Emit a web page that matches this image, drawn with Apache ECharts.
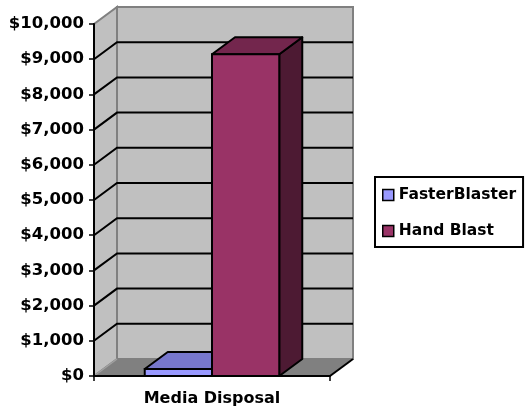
<!DOCTYPE html>
<html>
<head>
<meta charset="utf-8">
<script src="https://cdn.jsdelivr.net/npm/echarts@6/dist/echarts.min.js"></script>
<style>
html,body{margin:0;padding:0;background:#fff;}
#chart{width:526px;height:414px;}
</style>
</head>
<body>
<div id="chart"></div>
<script>
// ---- data ----
const categories = ['Media Disposal'];
const seriesNames = ['FasterBlaster', 'Hand Blast'];
const fasterBlaster = [200];
const handBlast = [9140];
const yTicks = [0, 1000, 2000, 3000, 4000, 5000, 6000, 7000, 8000, 9000, 10000];

// ---- styling ----
const DX = 23, DY = -17;
const FONT = 'DejaVu Sans';
const faceColors = [
  { front: '#9999FF', top: '#7777CC', side: '#5C5CA6' },
  { front: '#993366', top: '#73264D', side: '#4D1A33' }
];

const chart = echarts.init(document.getElementById('chart'), null, { renderer: 'canvas' });

function wallsRender(params, api) {
  const cs = params.coordSys;
  const L = cs.x, R = cs.x + cs.width, T = cs.y, B = cs.y + cs.height;
  const children = [];
  if (params.dataIndex === 0) {
    children.push({
      type: 'polygon',
      shape: { points: [[L, B], [L + DX, B + DY], [L + DX, T + DY], [L, T]] },
      style: { fill: '#C0C0C0', stroke: '#808080', lineWidth: 2 }
    });
    children.push({
      type: 'rect',
      shape: { x: L + DX, y: T + DY, width: R - L, height: B - T },
      style: { fill: '#C0C0C0', stroke: '#808080', lineWidth: 2 }
    });
    children.push({
      type: 'polygon',
      shape: { points: [[L, B], [R, B], [R + DX, B + DY], [L + DX, B + DY]] },
      style: { fill: '#808080', stroke: null }
    });
    children.push({
      type: 'line',
      shape: { x1: L, y1: B, x2: L + DX, y2: B + DY },
      style: { stroke: '#A0A0A0', lineWidth: 1.5 }
    });
    children.push({
      type: 'line',
      shape: { x1: R, y1: B, x2: R + DX, y2: B + DY },
      style: { stroke: '#000', lineWidth: 2 }
    });
  }
  const v = api.value(1);
  const y = api.coord([0, v])[1];
  if (v > yTicks[0] && v < yTicks[yTicks.length - 1]) {
    children.push({
      type: 'polyline',
      shape: { points: [[L, y], [L + DX, y + DY], [R + DX, y + DY]] },
      style: { stroke: '#000', lineWidth: 2, fill: null }
    });
  }
  return { type: 'group', children: children };
}

function barRender(sIdx) {
  return function (params, api) {
    const ci = api.value(0), v = api.value(1);
    const base = api.coord([ci, 0]);
    const topPt = api.coord([ci, v]);
    const band = api.size([1, 0])[0];
    const w = band * 0.285;
    const x0 = base[0] + (sIdx === 0 ? -w : 0);
    const x1 = x0 + w;
    const yb = base[1], yt = topPt[1];
    const c = faceColors[sIdx];
    return {
      type: 'group',
      children: [
        { type: 'polygon', shape: { points: [[x1, yt], [x1 + DX, yt + DY], [x1 + DX, yb + DY], [x1, yb]] },
          style: { fill: c.side, stroke: '#000', lineWidth: 2, lineJoin: 'round' } },
        { type: 'polygon', shape: { points: [[x0, yt], [x0 + DX, yt + DY], [x1 + DX, yt + DY], [x1, yt]] },
          style: { fill: c.top, stroke: '#000', lineWidth: 2, lineJoin: 'round' } },
        { type: 'rect', shape: { x: x0, y: yt, width: w, height: yb - yt },
          style: { fill: c.front, stroke: '#000', lineWidth: 2 } }
      ]
    };
  };
}

const option = {
  animation: false,
  backgroundColor: '#fff',
  grid: { left: 94, right: 196, top: 24, bottom: 38, containLabel: false },
  legend: {
    orient: 'vertical',
    left: 375, top: 177,
    itemWidth: 11, itemHeight: 11, itemGap: 20, itemTextGap: 9,
    padding: [10, 7, 8, 7],
    borderColor: '#000', borderWidth: 2, borderRadius: 0,
    backgroundColor: '#fff',
    icon: 'rect',
    textStyle: { fontFamily: FONT, fontWeight: 'bold', fontSize: 15.5, color: '#000', lineHeight: 16 },
    data: seriesNames.map((n, i) => ({ name: n, itemStyle: { color: faceColors[i].front, borderColor: '#000', borderWidth: 1.5 } }))
  },
  xAxis: {
    type: 'category',
    data: categories,
    z: 10,
    axisLine: { show: true, lineStyle: { color: '#000', width: 2 } },
    axisTick: { show: true, length: 5, lineStyle: { color: '#000', width: 1.5 } },
    axisLabel: { fontFamily: FONT, fontWeight: 'bold', fontSize: 16, color: '#000', margin: 15 },
    splitLine: { show: false }
  },
  yAxis: {
    type: 'value',
    min: yTicks[0], max: yTicks[yTicks.length - 1], interval: yTicks[1] - yTicks[0],
    z: 10,
    axisLine: { show: true, lineStyle: { color: '#000', width: 2 } },
    axisTick: { show: true, length: 5, lineStyle: { color: '#000', width: 1.5 } },
    axisLabel: {
      fontFamily: FONT, fontWeight: 'bold', fontSize: 16.5, color: '#000', margin: 10,
      formatter: v => '$' + v.toLocaleString('en-US')
    },
    splitLine: { show: false }
  },
  series: [
    {
      name: 'walls', type: 'custom', z: 1, silent: true,
      renderItem: wallsRender,
      encode: { x: 0, y: 1 },
      data: yTicks.map(t => [0, t])
    },
    {
      name: seriesNames[0], type: 'custom', z: 3,
      itemStyle: { color: faceColors[0].front },
      renderItem: barRender(0),
      encode: { x: 0, y: 1 },
      data: categories.map((c, i) => [i, fasterBlaster[i]])
    },
    {
      name: seriesNames[1], type: 'custom', z: 4,
      itemStyle: { color: faceColors[1].front },
      renderItem: barRender(1),
      encode: { x: 0, y: 1 },
      data: categories.map((c, i) => [i, handBlast[i]])
    }
  ]
};
chart.setOption(option);
</script>
</body>
</html>
